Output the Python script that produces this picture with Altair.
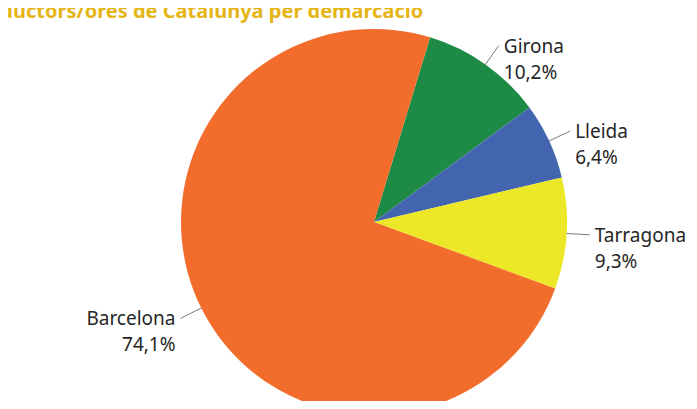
import numpy as np
import pandas as pd
import altair as alt

# ---- data ----
regions = ["Girona", "Lleida", "Tarragona", "Barcelona"]
shares = [10.2, 6.4, 9.3, 74.1]
pct_labels = ["10,2%", "6,4%", "9,3%", "74,1%"]
colors = ["#1d8a45", "#4365b0", "#ece827", "#f26c2c"]
title_text = "Conductors/ores de Catalunya per demarcació"

# ---- layout / style constants ----
W, H = 681, 393          # drawing area (svg)
CX, CY = 366, 214        # pie centre in svg pixels
R = 193                  # pie radius in pixels
START = 0.295            # start angle (radians, clockwise from 12 o'clock)
K = 1.12                 # leader-line end radius (in pie radii)
FONT = "Noto Sans"

df = pd.DataFrame({
    "region": regions,
    "share": shares,
    "pct": pct_labels,
    "order": list(range(len(regions))),
})
total = df["share"].sum()
before = df["share"].cumsum() - df["share"]
mid = START + 2 * np.pi * (before + df["share"] / 2) / total
df["x0"] = np.sin(mid)
df["y0"] = np.cos(mid)
df["x1"] = K * np.sin(mid)
df["y1"] = K * np.cos(mid)
df["side"] = np.where(df["x1"] >= 0, "right", "left")
df["label"] = df["region"] + "\n" + df["pct"]

xs = alt.Scale(domain=[-CX / R, (W - CX) / R], nice=False, zero=False)
ys = alt.Scale(domain=[(CY - H) / R, CY / R], nice=False, zero=False)

base = alt.Chart(df)

pie = base.mark_arc(radius=R).encode(
    theta=alt.Theta("share:Q", stack=True,
                    scale=alt.Scale(range=[START, START + 2 * np.pi])),
    color=alt.Color("region:N", scale=alt.Scale(domain=regions, range=colors),
                    legend=None),
    order=alt.Order("order:Q"),
    x=alt.value(CX),
    y=alt.value(CY),
)

lines = base.mark_rule(color="#7a7a7a", strokeWidth=1).encode(
    x=alt.X("x0:Q", scale=xs, axis=None),
    y=alt.Y("y0:Q", scale=ys, axis=None),
    x2="x1:Q",
    y2="y1:Q",
)

txt_style = dict(font=FONT, fontSize=19, color="#262626", lineBreak="\n",
                 lineHeight=26, baseline="alphabetic", dy=7)

right_txt = base.transform_filter(alt.datum.side == "right").mark_text(
    align="left", dx=5, **txt_style
).encode(
    x=alt.X("x1:Q", scale=xs, axis=None),
    y=alt.Y("y1:Q", scale=ys, axis=None),
    text="label:N",
)

left_txt = base.transform_filter(alt.datum.side == "left").mark_text(
    align="right", dx=-5, **txt_style
).encode(
    x=alt.X("x1:Q", scale=xs, axis=None),
    y=alt.Y("y1:Q", scale=ys, axis=None),
    text="label:N",
)

title = alt.Chart(pd.DataFrame({"t": [title_text]})).mark_text(
    align="left", baseline="alphabetic", font=FONT, fontSize=20,
    fontWeight="bold", color="#e5b516"
).encode(x=alt.value(-46), y=alt.value(10), text="t:N")

chart = alt.layer(pie, lines, right_txt, left_txt, title).properties(
    width=W, height=H, padding=0, autosize=alt.AutoSizeParams(type="none")
).configure_view(stroke=None)

chart.save("out.html", embed_options={"renderer": "svg", "actions": False})
